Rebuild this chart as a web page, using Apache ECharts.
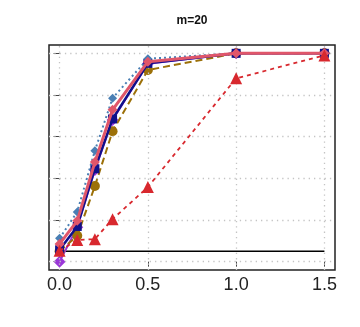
<!DOCTYPE html>
<html><head><meta charset="utf-8">
<script src="https://cdn.jsdelivr.net/npm/echarts@6/dist/echarts.min.js"></script>
<style>html,body{margin:0;padding:0;background:#fff}#c{width:360px;height:327px}</style>
</head><body><div id="c"></div>
<script>
const titleText = 'm=20';
const xValues = [0, 0.1, 0.2, 0.3, 0.5, 1.0, 1.5];
const xTicks = [0, 0.5, 1.0, 1.5];
const yTicks = [0, 0.2, 0.4, 0.6, 0.8, 1.0];
const refLevel = 0.05;
const purpleVals = [0.0, 0.165, 0.44, 0.68, 0.95, 1.0, 1.0];
const oliveVals = [0.05, 0.124, 0.363, 0.626, 0.92, 1.0, 1.0];
const navyVals = [0.057, 0.169, 0.446, 0.685, 0.952, 1.0, 1.0];
const steelVals = [0.112, 0.239, 0.533, 0.785, 0.974, 1.0, 1.0];
const pinkVals = [0.085, 0.196, 0.478, 0.729, 0.96, 1.0, 1.0];
const redVals = [0.052, 0.104, 0.108, 0.204, 0.358, 0.88, 0.99];

const pair = v => xValues.map((x, i) => [x, v[i]]);
const chart = echarts.init(document.getElementById('c'), null, {renderer: 'canvas'});
const grey = {color: '#c4c4c4', width: 1.3, type: [1.3, 4]};
function lineSeries(name, vals, color, symbol, size, width, type, z) {
  return {name, type: 'line', data: pair(vals), symbol, symbolSize: size,
    lineStyle: {color, width, type}, itemStyle: {color}, z, animation: false, silent: true};
}
chart.setOption({
  animation: false,
  title: {text: titleText, left: 187, top: 10, textAlign: 'center',
    textStyle: {fontFamily: 'Liberation Sans', fontWeight: 'bold', fontSize: 12, color: '#111'}},
  grid: {left: 49, right: 25, top: 45, bottom: 57, show: true, borderColor: '#222', borderWidth: 1.5, backgroundColor: 'transparent'},
  xAxis: {type: 'value', min: -0.06, max: 1.56,
    axisLine: {show: false}, splitLine: {show: false},
    axisTick: {show: true, customValues: xTicks, length: 5, lineStyle: {color: '#444', width: 1}},
    axisLabel: {show: true, customValues: xTicks, margin: 6, fontFamily: 'Liberation Sans', fontSize: 18, color: '#222',
      formatter: v => v.toFixed(1)}},
  yAxis: {type: 'value', min: -0.04, max: 1.04,
    axisLine: {show: false}, splitLine: {show: false},
    axisTick: {show: true, customValues: yTicks, length: 6, lineStyle: {color: '#444', width: 1}},
    axisLabel: {show: false}},
  series: [
    {type: 'line', data: [], z: 1, silent: true,
      markLine: {silent: true, symbol: 'none', label: {show: false}, lineStyle: grey, animation: false,
        data: xTicks.map(x => ({xAxis: x})).concat(yTicks.map(y => ({yAxis: y})))}},
    {type: 'line', data: [[0, refLevel], [1.5, refLevel]], symbol: 'none', lineStyle: {color: '#000', width: 1.3}, z: 2, silent: true},
    lineSeries('purple', purpleVals, '#9a36d8', 'diamond', 12, 2, 'solid', 3),
    lineSeries('olive', oliveVals, '#9c7008', 'circle', 10, 2, [7, 4], 4),
    lineSeries('navy', navyVals, '#10108a', 'rect', 9, 2.5, 'solid', 5),
    lineSeries('steel', steelVals, '#4a7fb4', 'diamond', 9, 2, [2, 3], 6),
    lineSeries('pink', pinkVals, '#e0566a', 'diamond', 10, 3, 'solid', 7),
    lineSeries('red', redVals, '#d8282e', 'triangle', 12, 1.8, [4, 4], 8)
  ]
});
</script></body></html>
